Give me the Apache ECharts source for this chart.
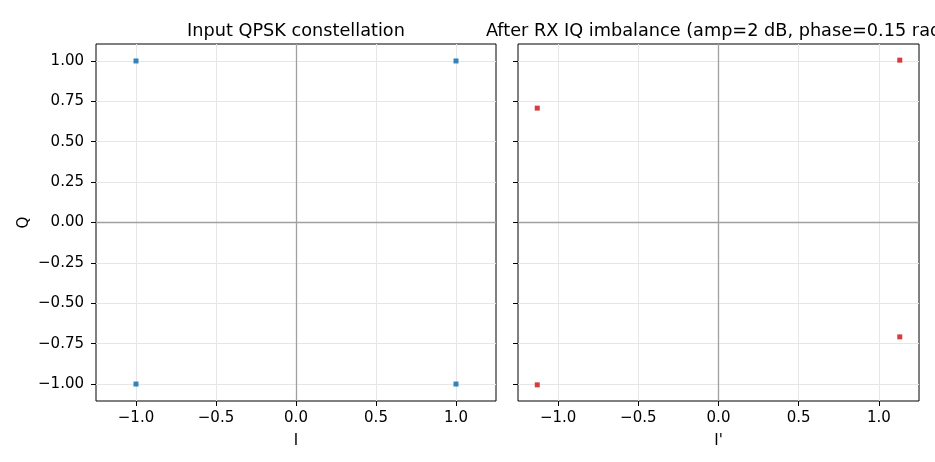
<!DOCTYPE html>
<html>
<head>
<meta charset="utf-8">
<script src="https://cdn.jsdelivr.net/npm/echarts@6/dist/echarts.min.js"></script>
<style>
  html, body { margin: 0; padding: 0; background: #fff; }
  #chart { width: 935px; height: 462px; }
</style>
</head>
<body>
<div id="chart"></div>
<script>
// input QPSK symbols
const inputI = [1, -1, -1, 1];
const inputQ = [1, 1, -1, -1];
// after RX IQ imbalance
const rxI = [1.13, -1.13, -1.13, 1.13];
const rxQ = [1.005, 0.708, -1.005, -0.708];

const xTicks = [-1.0, -0.5, 0.0, 0.5, 1.0];
const yTicks = [-1.0, -0.75, -0.5, -0.25, 0.0, 0.25, 0.5, 0.75, 1.0];
const xLim = [-1.25, 1.25];
const yLim = [-1.105, 1.105];

const font = 'DejaVu Sans';
const fmt = (v, d) => {
    const s = Math.abs(v).toFixed(d);
    return v < -1e-9 ? '\u2212' + s : s;
};

const chart = echarts.init(document.getElementById('chart'));

function xAxisOpt(gridIndex, name) {
    return {
        type: 'value',
        gridIndex: gridIndex,
        min: xLim[0],
        max: xLim[1],
        name: name,
        nameLocation: 'middle',
        nameGap: 33,
        nameTextStyle: { fontFamily: font, fontSize: 15, color: '#000' },
        axisLine: { show: false, onZero: false },
        axisTick: { show: true, length: 5, customValues: xTicks, lineStyle: { color: '#000' } },
        axisLabel: {
            customValues: xTicks,
            margin: 10,
            fontFamily: font, fontSize: 15, color: '#000',
            formatter: v => fmt(v, 1)
        },
        splitLine: { show: true, lineStyle: { color: '#e6e6e6', width: 1 } }
    };
}

function yAxisOpt(gridIndex, showLabels) {
    return {
        type: 'value',
        gridIndex: gridIndex,
        min: yLim[0],
        max: yLim[1],
        name: showLabels ? 'Q' : '',
        nameLocation: 'middle',
        nameGap: 64,
        nameTextStyle: { fontFamily: font, fontSize: 15, color: '#000' },
        axisLine: { show: false, onZero: false },
        axisTick: { show: true, length: 5, customValues: yTicks, lineStyle: { color: '#000' } },
        axisLabel: {
            show: showLabels,
            customValues: yTicks,
            margin: 12,
            fontFamily: font, fontSize: 15, color: '#000',
            formatter: v => fmt(v, 2)
        },
        splitLine: { show: true, lineStyle: { color: '#e6e6e6', width: 1 } }
    };
}

const zeroLines = {
    silent: true,
    symbol: 'none',
    label: { show: false },
    lineStyle: { color: '#a0a0a0', width: 1.3, type: 'solid' },
    data: [{ xAxis: 0 }, { yAxis: 0 }],
    animation: false
};

chart.setOption({
    animation: false,
    title: [
        {
            text: 'Input QPSK constellation',
            left: 291, top: 17, textAlign: 'center',
            textStyle: { fontFamily: font, fontSize: 17.7, fontWeight: 'normal', color: '#000' }
        },
        {
            text: 'After RX IQ imbalance (amp=2 dB, phase=0.15 rad)',
            left: 712, top: 17, textAlign: 'center',
            textStyle: { fontFamily: font, fontSize: 17.7, fontWeight: 'normal', color: '#000' }
        }
    ],
    grid: [
        { left: 96, top: 44, width: 400, height: 357, show: true, borderColor: '#000', borderWidth: 1, backgroundColor: 'transparent' },
        { left: 518, top: 44, width: 401, height: 357, show: true, borderColor: '#000', borderWidth: 1, backgroundColor: 'transparent' }
    ],
    xAxis: [xAxisOpt(0, 'I'), xAxisOpt(1, "I'")],
    yAxis: [yAxisOpt(0, true), yAxisOpt(1, false)],
    series: [
        {
            type: 'scatter',
            xAxisIndex: 0, yAxisIndex: 0,
            symbol: 'rect', symbolSize: 5,
            itemStyle: { color: '#1f77b4', opacity: 0.9 },
            data: inputI.map((v, i) => [v, inputQ[i]]),
            markLine: zeroLines,
            z: 5
        },
        {
            type: 'scatter',
            xAxisIndex: 1, yAxisIndex: 1,
            symbol: 'rect', symbolSize: 5,
            itemStyle: { color: '#d62728', opacity: 0.9 },
            data: rxI.map((v, i) => [v, rxQ[i]]),
            markLine: zeroLines,
            z: 5
        }
    ]
});
</script>
</body>
</html>
